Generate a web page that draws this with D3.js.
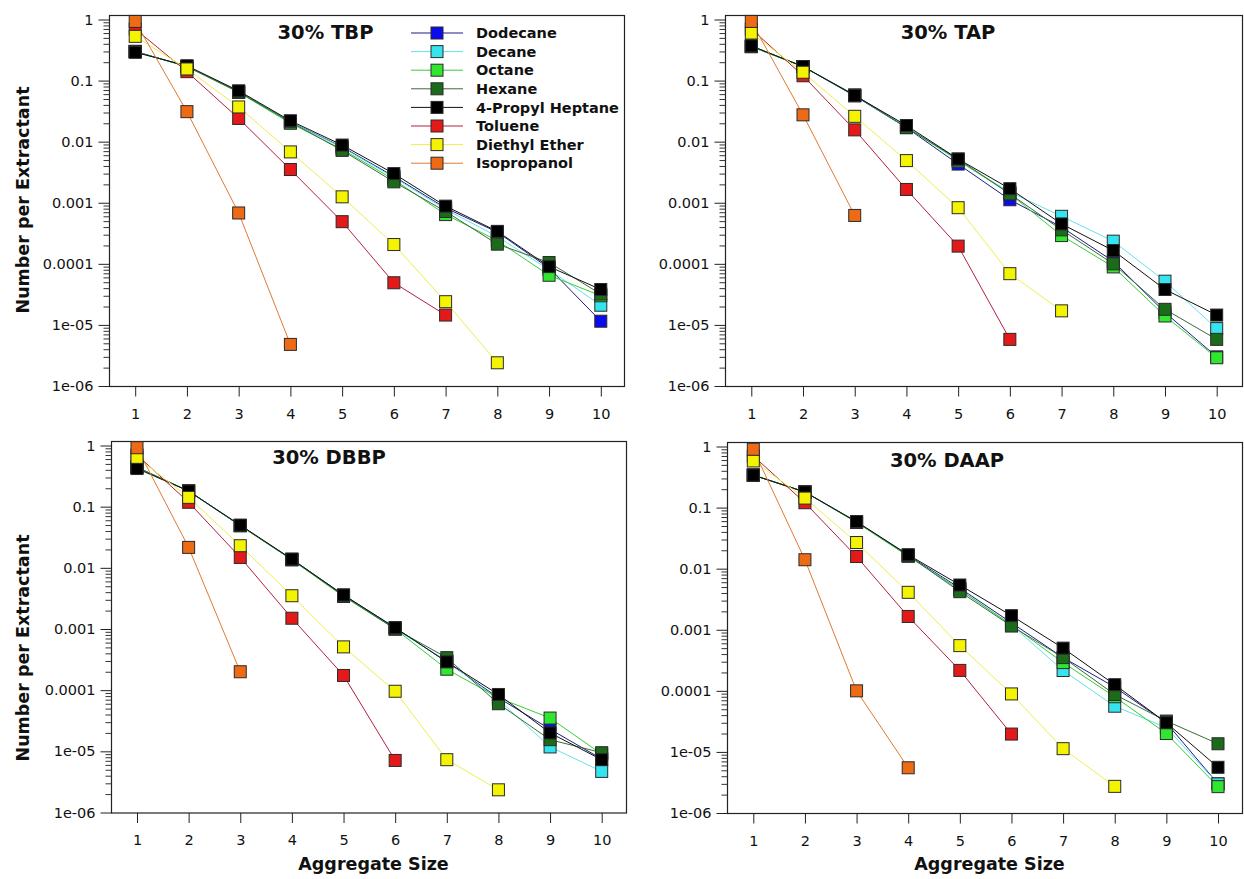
<!DOCTYPE html>
<html><head><meta charset="utf-8">
<script src="https://cdn.jsdelivr.net/npm/d3@7"></script>
<style>
body{margin:0;background:#fff}
svg{display:block}
text{font-family:"DejaVu Sans",sans-serif;fill:#111}
</style>
</head><body>
<svg id="chart" width="1244" height="879"></svg>
<script>
// ---------- data ----------
const sizes = [1, 2, 3, 4, 5, 6, 7, 8, 9, 10];
const solvents = ["Dodecane", "Decane", "Octane", "Hexane", "4-Propyl Heptane", "Toluene", "Diethyl Ether", "Isopropanol"];
const fillColors = ["#0b0bec", "#36e4f0", "#30e630", "#1b6b1b", "#000000", "#e41a1a", "#f4f400", "#ee6b16"];
const lineColors = ["#1c1c8a", "#66e2ea", "#38cc38", "#3b6b3b", "#111111", "#b3203f", "#eeee50", "#e07a30"];
const yTickValues = [1, 0.1, 0.01, 0.001, 0.0001, 1e-5, 1e-6];
const yTickLabels = ["1", "0.1", "0.01", "0.001", "0.0001", "1e-05", "1e-06"];
const panelTitles = ["30% TBP", "30% TAP", "30% DBBP", "30% DAAP"];
const xAxisTitle = "Aggregate Size";
const yAxisTitle = "Number per Extractant";

// rows follow the solvents order; null = no point
const tbp = [
  [0.30, 0.17, 0.066, 0.021, 0.0082, 0.0027, 8.2e-4, 3.3e-4, 8.5e-5, 1.15e-5],
  [0.30, 0.17, 0.065, 0.021, 0.0080, 0.0026, 7.8e-4, 2.8e-4, 8.0e-5, 2.1e-5],
  [0.30, 0.17, 0.064, 0.020, 0.0075, 0.0024, 6.4e-4, 2.4e-4, 6.5e-5, 3.0e-5],
  [0.30, 0.17, 0.065, 0.021, 0.0072, 0.0022, 7.2e-4, 2.1e-4, 1.05e-4, 3.2e-5],
  [0.29, 0.175, 0.068, 0.022, 0.0088, 0.0030, 8.8e-4, 3.4e-4, 9.0e-5, 3.8e-5],
  [0.70, 0.14, 0.024, 0.0035, 4.9e-4, 4.9e-5, 1.45e-5, null, null, null],
  [0.53, 0.155, 0.037, 0.0068, 1.25e-3, 2.07e-4, 2.4e-5, 2.4e-6, null, null],
  [0.93, 0.031, 6.8e-4, 4.8e-6, null, null, null, null, null, null]
];
const tap = [
  [0.36, 0.17, 0.056, 0.017, 0.0043, 1.12e-3, 4.0e-4, 1.1e-4, 1.6e-5, 3.0e-6],
  [0.36, 0.17, 0.057, 0.018, 0.0048, 1.5e-3, 6.0e-4, 2.35e-4, 5.2e-5, 8.7e-6],
  [0.36, 0.17, 0.058, 0.017, 0.0050, 1.4e-3, 2.9e-4, 8.9e-5, 1.4e-5, 2.9e-6],
  [0.37, 0.17, 0.058, 0.017, 0.0052, 1.4e-3, 3.6e-4, 1.0e-4, 1.8e-5, 5.8e-6],
  [0.37, 0.17, 0.057, 0.0184, 0.0052, 1.7e-3, 4.5e-4, 1.65e-4, 3.8e-5, 1.45e-5],
  [0.70, 0.12, 0.0156, 1.65e-3, 1.95e-4, 5.8e-6, null, null, null, null],
  [0.60, 0.137, 0.026, 4.9e-3, 8.3e-4, 6.9e-5, 1.7e-5, null, null, null],
  [0.93, 0.0275, 6.2e-4, null, null, null, null, null, null, null]
];
const dbbp = [
  [0.44, 0.18, 0.049, 0.0138, 0.0036, 1.05e-3, 2.9e-4, 7.5e-5, 2.3e-5, 7.5e-6],
  [0.44, 0.18, 0.049, 0.0137, 0.0035, 1.0e-3, 3.0e-4, 7.0e-5, 1.18e-5, 4.7e-6],
  [0.44, 0.18, 0.049, 0.0135, 0.0034, 1.0e-3, 2.2e-4, 7.5e-5, 3.5e-5, 9.0e-6],
  [0.44, 0.18, 0.049, 0.0136, 0.0035, 1.0e-3, 3.4e-4, 6.0e-5, 1.55e-5, 9.5e-6],
  [0.42, 0.18, 0.050, 0.0139, 0.0036, 1.05e-3, 2.9e-4, 8.5e-5, 2.0e-5, 7.3e-6],
  [0.70, 0.118, 0.0148, 1.5e-3, 1.74e-4, 7.1e-6, null, null, null, null],
  [0.64, 0.142, 0.023, 3.5e-3, 5.1e-4, 9.6e-5, 7.3e-6, 2.35e-6, null, null],
  [0.92, 0.0216, 2.0e-4, null, null, null, null, null, null, null]
];
const daap = [
  [0.34, 0.18, 0.058, 0.0165, 0.0048, 1.3e-3, 3.5e-4, 1.15e-4, 3.0e-5, 3.0e-6],
  [0.34, 0.18, 0.058, 0.016, 0.0046, 1.2e-3, 2.15e-4, 5.6e-5, 2.5e-5, 3.0e-6],
  [0.34, 0.18, 0.057, 0.016, 0.0045, 1.2e-3, 2.9e-4, 8.0e-5, 2.0e-5, 2.7e-6],
  [0.34, 0.18, 0.058, 0.0165, 0.0042, 1.15e-3, 3.5e-4, 8.7e-5, 3.2e-5, 1.36e-5],
  [0.34, 0.18, 0.059, 0.0169, 0.0054, 1.7e-3, 5.0e-4, 1.26e-4, 3.0e-5, 5.6e-6],
  [0.70, 0.12, 0.0158, 1.65e-3, 2.16e-4, 1.96e-5, null, null, null, null],
  [0.58, 0.143, 0.0268, 4.1e-3, 5.5e-4, 8.9e-5, 1.13e-5, 2.73e-6, null, null],
  [0.90, 0.014, 1.0e-4, 5.5e-6, null, null, null, null, null, null]
];

// ---------- layout ----------
const panels = [
  {data: tbp,  title: panelTitles[0], left: 109, right: 624,  top: 15,  bottom: 386,   x1: 135.2, x10: 600.8, tx: 325.5, ty: 39,  legend: true,  yLab: 200, xLab: false},
  {data: tap,  title: panelTitles[1], left: 725, right: 1242, top: 15,  bottom: 386,   x1: 751.3, x10: 1216.7, tx: 948,  ty: 39,  legend: false, yLab: null, xLab: false},
  {data: dbbp, title: panelTitles[2], left: 111, right: 626,  top: 441, bottom: 812.5, x1: 137,   x10: 601.7, tx: 329,   ty: 464, legend: false, yLab: 648, xLab: true},
  {data: daap, title: panelTitles[3], left: 727, right: 1242, top: 442, bottom: 813,   x1: 753.3, x10: 1218,  tx: 947,   ty: 467, legend: false, yLab: null, xLab: true}
];

const svg = d3.select("#chart");
const minorTicks = [];
for (let e = -6; e < 0; e++) for (let m = 2; m <= 9; m++) minorTicks.push(m * Math.pow(10, e));

const MS = 12; // marker size

panels.forEach(p => {
  const x = d3.scaleLinear().domain([1, 10]).range([p.x1, p.x10]);
  const y = d3.scaleLog().domain([1e-6, 1]).range([p.bottom, p.top + 4.5]);
  const g = svg.append("g");

  // frame
  g.append("rect")
    .attr("x", p.left + 0.5).attr("y", p.top + 0.5)
    .attr("width", p.right - p.left).attr("height", p.bottom - p.top)
    .attr("fill", "none").attr("stroke", "#222").attr("stroke-width", 1.2);

  // y axis major + minor
  const ya = g.append("g").attr("transform", `translate(${p.left + 0.5},0)`)
    .call(d3.axisLeft(y).tickValues(yTickValues)
      .tickFormat((d, i) => yTickLabels[i]).tickSize(11).tickPadding(5));
  ya.select(".domain").remove();
  ya.selectAll("text").style("font-size", "14.5px").style("font-family", '"DejaVu Sans",sans-serif').attr("fill", "#111");
  ya.selectAll("line").attr("stroke", "#222");
  const ym = g.append("g").attr("transform", `translate(${p.left + 0.5},0)`)
    .call(d3.axisLeft(y).tickValues(minorTicks).tickFormat("").tickSize(6));
  ym.select(".domain").remove();
  ym.selectAll("line").attr("stroke", "#333");

  // x axis
  const xa = g.append("g").attr("transform", `translate(0,${p.bottom + 0.5})`)
    .call(d3.axisBottom(x).tickValues(sizes).tickFormat(d3.format("d")).tickSize(10).tickPadding(12));
  xa.select(".domain").remove();
  xa.selectAll("text").style("font-size", "14.5px").style("font-family", '"DejaVu Sans",sans-serif').attr("fill", "#111");
  xa.selectAll("line").attr("stroke", "#222");

  // lines
  const line = d3.line().defined(d => d.v != null).x(d => x(d.s)).y(d => y(d.v));
  p.data.forEach((row, si) => {
    const pts = row.map((v, i) => ({s: sizes[i], v}));
    g.append("path").datum(pts).attr("d", line)
      .attr("fill", "none").attr("stroke", lineColors[si]).attr("stroke-width", 1);
  });
  // markers
  p.data.forEach((row, si) => {
    const pts = row.map((v, i) => ({s: sizes[i], v})).filter(d => d.v != null);
    g.selectAll(null).data(pts).enter().append("rect")
      .attr("x", d => x(d.s) - MS / 2).attr("y", d => y(d.v) - MS / 2)
      .attr("width", MS).attr("height", MS)
      .attr("fill", fillColors[si]).attr("stroke", "#2a2a2a").attr("stroke-width", 1);
  });

  // title
  g.append("text").attr("x", p.tx).attr("y", p.ty).attr("text-anchor", "middle")
    .style("font-size", "19.5px").style("font-weight", "bold").text(p.title);

  // legend
  if (p.legend) {
    const lg = g.append("g");
    solvents.forEach((name, i) => {
      const ly = 33 + i * 18.6;
      lg.append("line").attr("x1", 411).attr("x2", 463).attr("y1", ly).attr("y2", ly)
        .attr("stroke", lineColors[i]).attr("stroke-width", 1);
      lg.append("rect").attr("x", 437 - MS / 2).attr("y", ly - MS / 2).attr("width", MS).attr("height", MS)
        .attr("fill", fillColors[i]).attr("stroke", "#2a2a2a").attr("stroke-width", 1);
      lg.append("text").attr("x", 476).attr("y", ly).attr("dy", "0.36em")
        .style("font-size", "14.5px").style("font-weight", "bold").text(name);
    });
  }

  if (p.yLab != null) {
    g.append("text").attr("transform", `translate(23,${p.yLab}) rotate(-90)`)
      .attr("text-anchor", "middle").attr("dy", "0.36em")
      .style("font-size", "17.5px").style("font-weight", "bold").text(yAxisTitle);
  }
  if (p.xLab) {
    g.append("text").attr("x", (p.left + p.right) / 2 + 5).attr("y", 870)
      .attr("text-anchor", "middle")
      .style("font-size", "17.5px").style("font-weight", "bold").text(xAxisTitle);
  }
});
</script>
</body></html>
